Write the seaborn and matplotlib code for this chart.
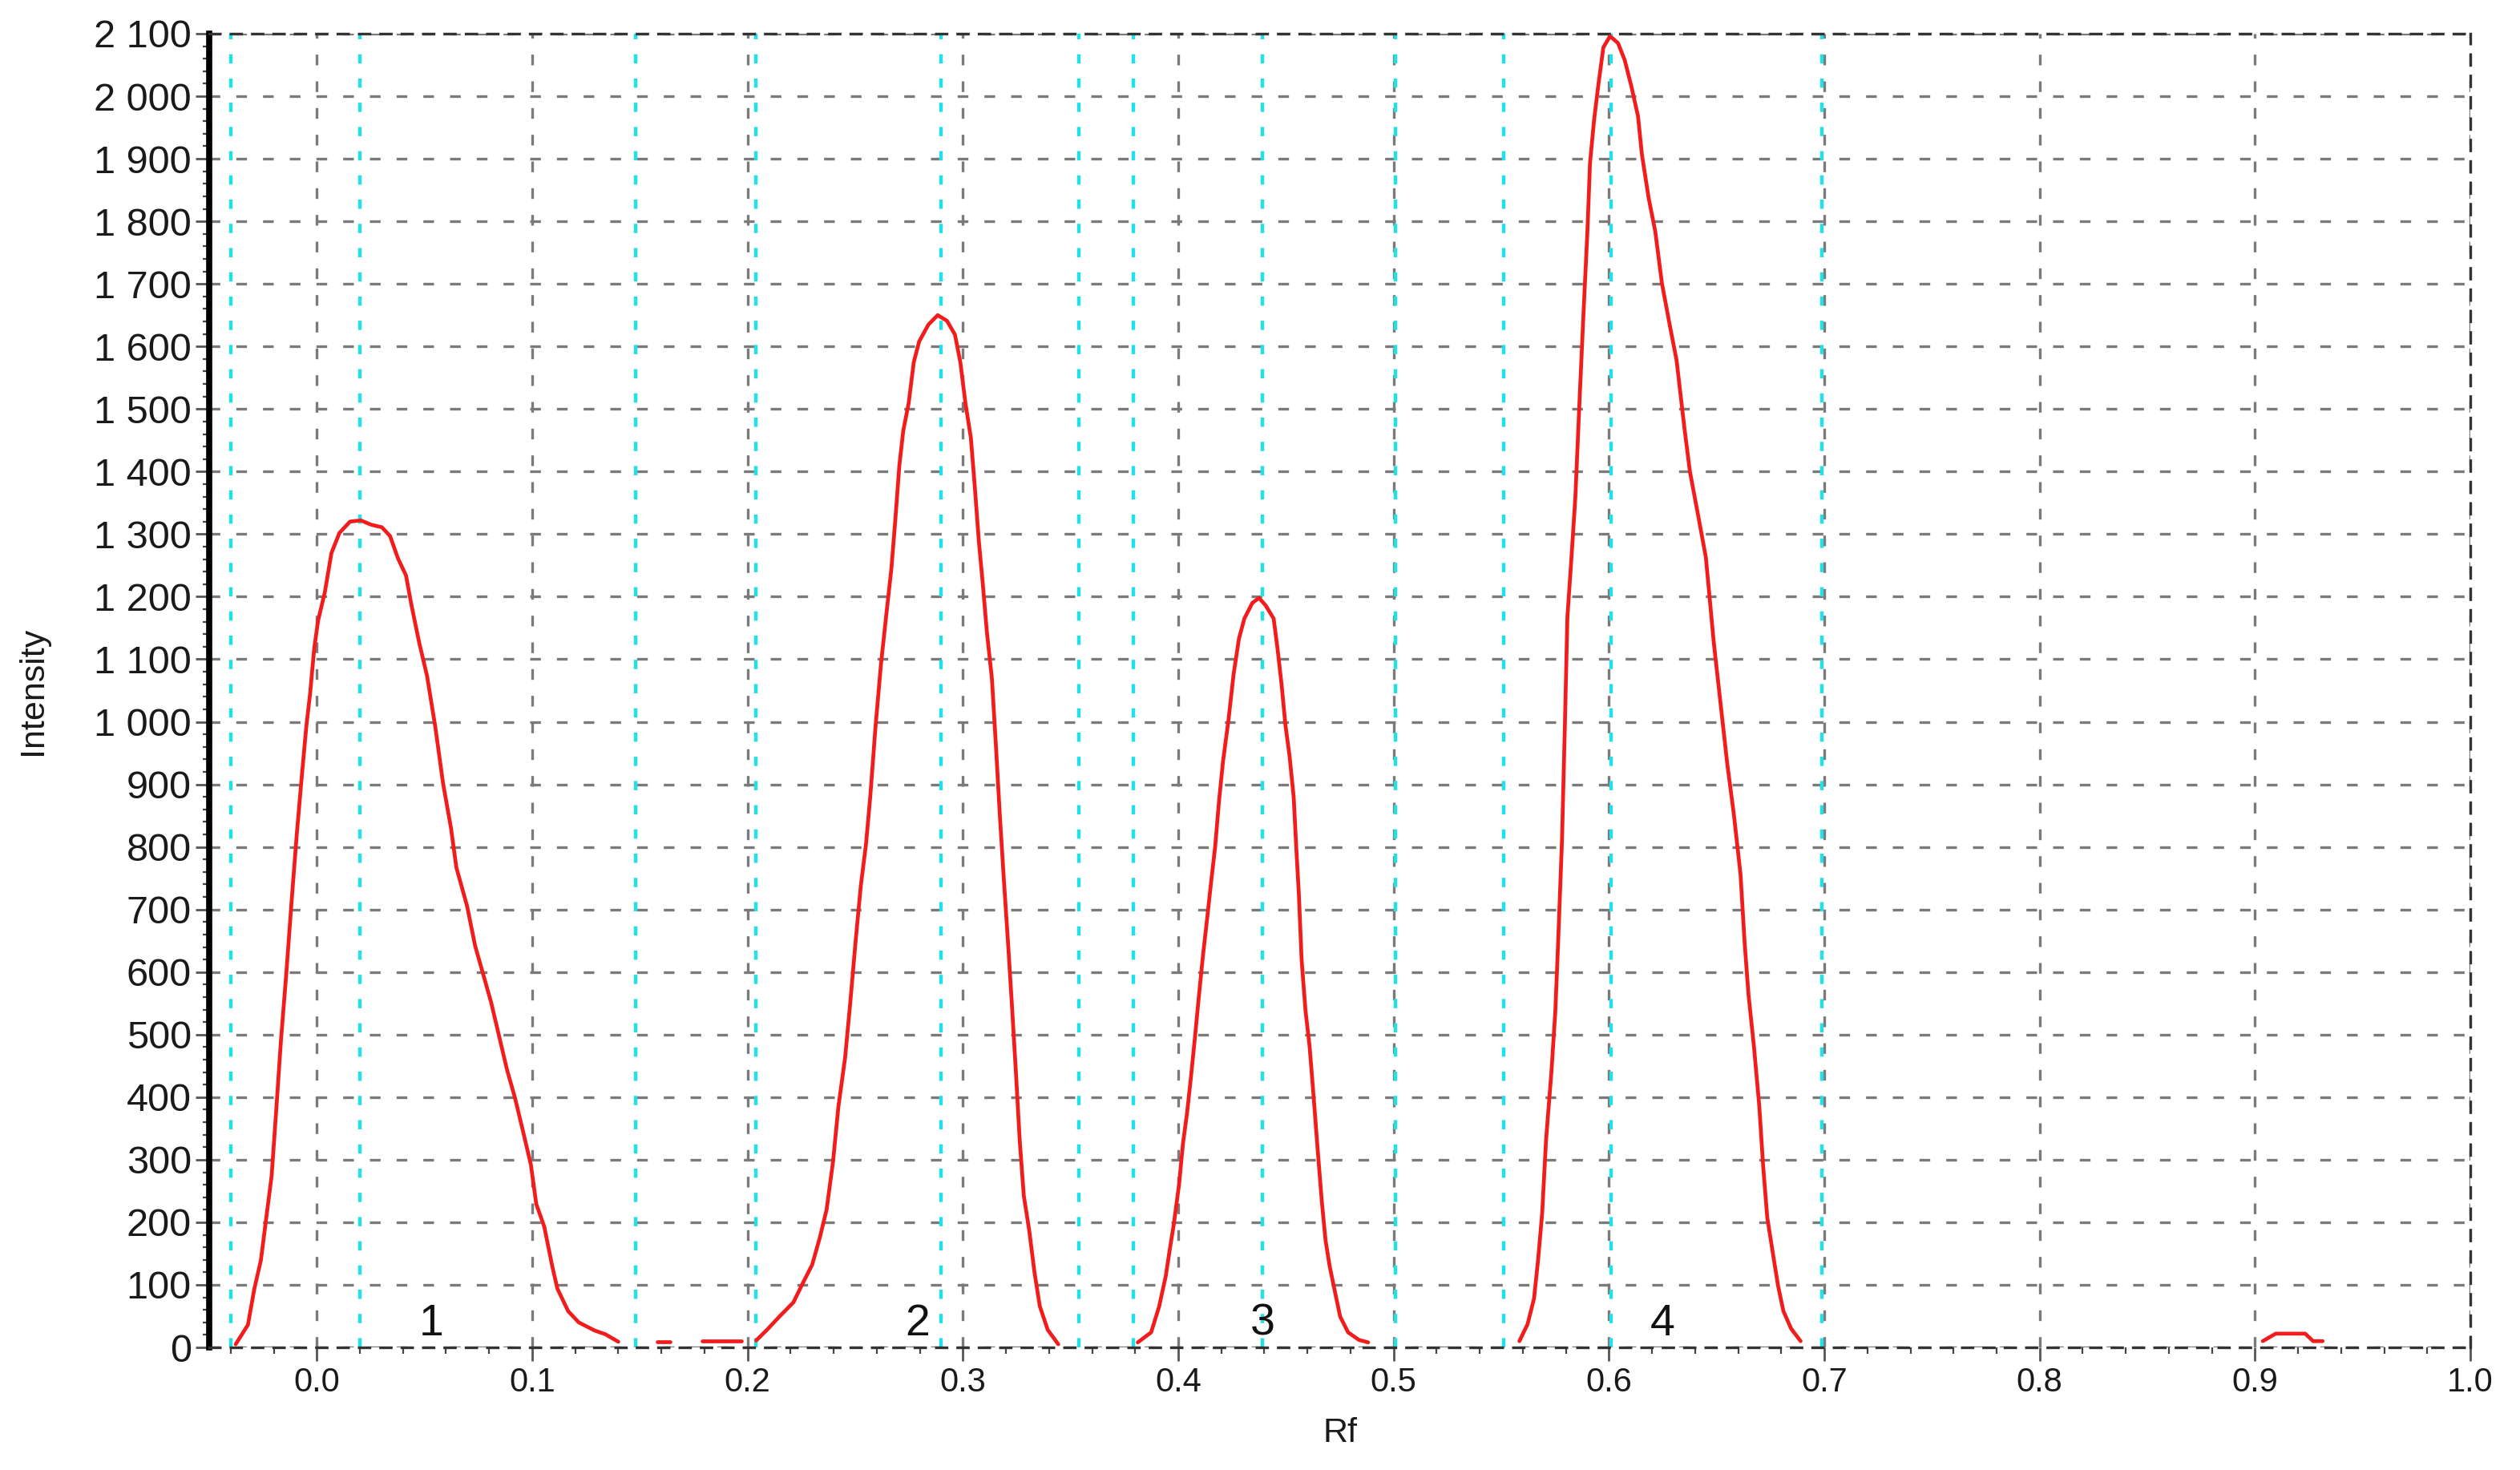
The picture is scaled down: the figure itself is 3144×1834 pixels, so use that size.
import numpy as np
import pandas as pd
import seaborn as sns
from matplotlib import pyplot as plt
from matplotlib.ticker import MultipleLocator, FuncFormatter

# densitogram trace (Rf, intensity), one list pair per segment
rf_peak1 = [-0.0377, -0.032, -0.029, -0.026, -0.024, -0.021, -0.019, -0.0167, -0.0142, -0.0117,
            -0.0093, -0.0068, -0.0049, -0.0031, -0.0012, 0.0006, 0.0037, 0.0068, 0.0105, 0.0154,
            0.0204, 0.0253, 0.0302, 0.034, 0.0377, 0.0414, 0.0438, 0.0475, 0.0512, 0.055,
            0.0586, 0.0623, 0.0648, 0.0698, 0.0735, 0.0772, 0.0809, 0.0846, 0.0883, 0.092,
            0.0957, 0.0994, 0.1019, 0.1056, 0.1093, 0.1117, 0.1167, 0.1216, 0.129, 0.134, 0.140]
int_peak1 = [5, 36, 94, 139, 193, 274, 372, 489, 597, 714,
             821, 920, 992, 1046, 1118, 1162, 1207, 1270, 1302, 1320,
             1322, 1315, 1311, 1297, 1261, 1234, 1189, 1127, 1073, 992,
             902, 830, 767, 705, 642, 597, 552, 498, 444, 399,
             346, 292, 229, 193, 130, 94, 58, 40, 27, 21, 9]

rf_bit1 = [0.158, 0.164]
int_bit1 = [9, 9]
rf_bit2 = [0.179, 0.197]
int_bit2 = [10, 10]

rf_peak2 = [0.204, 0.209, 0.215, 0.2213, 0.226, 0.230, 0.2336, 0.2367, 0.2397, 0.2422,
            0.2453, 0.2477, 0.2502, 0.2526, 0.255, 0.257, 0.2594, 0.2619, 0.2643, 0.2668,
            0.2686, 0.2705, 0.2723, 0.2748, 0.2772, 0.2797, 0.284, 0.2883, 0.2926, 0.2963,
            0.2988, 0.3012, 0.3037, 0.3055, 0.3074, 0.3092, 0.3111, 0.3135, 0.3154, 0.3172,
            0.319, 0.3209, 0.3227, 0.3246, 0.3264, 0.3283, 0.3308, 0.3332, 0.3357, 0.3394, 0.3443]
int_peak2 = [11, 28, 50, 72, 105, 132, 176, 220, 297, 385,
             463, 551, 650, 738, 804, 881, 991, 1090, 1167, 1245,
             1322, 1410, 1465, 1509, 1575, 1608, 1635, 1650, 1641, 1619,
             1575, 1509, 1454, 1377, 1289, 1222, 1145, 1068, 958, 848,
             749, 650, 551, 441, 330, 242, 187, 121, 66, 28, 5]

rf_peak3 = [0.3812, 0.3874, 0.3911, 0.3942, 0.396, 0.3979, 0.4004, 0.4022, 0.4041, 0.4059,
            0.4078, 0.4096, 0.4115, 0.4134, 0.4152, 0.4171, 0.4189, 0.4208, 0.4233, 0.4257,
            0.4282, 0.4307, 0.4344, 0.4375, 0.4406, 0.4443, 0.4461, 0.448, 0.4498, 0.4517,
            0.4536, 0.4548, 0.456, 0.4573, 0.4591, 0.461, 0.4629, 0.4647, 0.4666, 0.4684,
            0.4703, 0.4727, 0.4752, 0.4789, 0.4839, 0.4882]
int_peak3 = [8, 24, 65, 114, 155, 196, 261, 326, 375, 432,
             497, 562, 627, 685, 742, 799, 872, 937, 1002, 1076,
             1133, 1165, 1190, 1198, 1186, 1165, 1117, 1059, 994, 945,
             880, 799, 725, 619, 538, 481, 399, 318, 236, 171,
             130, 90, 49, 24, 12, 8]

rf_peak4 = [0.5584, 0.5622, 0.5652, 0.5671, 0.569, 0.5708, 0.5733, 0.5751, 0.5764, 0.5782,
            0.5795, 0.5807, 0.5826, 0.5844, 0.5863, 0.5881, 0.59, 0.5912, 0.5931, 0.595,
            0.5974, 0.6005, 0.6042, 0.6073, 0.6104, 0.6135, 0.6153, 0.6184, 0.6215, 0.6246,
            0.6283, 0.6314, 0.6351, 0.6376, 0.6413, 0.645, 0.6487, 0.6518, 0.6549, 0.658,
            0.6611, 0.663, 0.6648, 0.6673, 0.6698, 0.6716, 0.6735, 0.676, 0.6785, 0.681,
            0.6846, 0.689]
int_peak4 = [10, 37, 78, 140, 215, 332, 441, 537, 647, 811,
             989, 1167, 1263, 1359, 1510, 1647, 1784, 1893, 1962, 2016,
             2078, 2096, 2085, 2058, 2016, 1968, 1907, 1838, 1784, 1701,
             1633, 1578, 1468, 1400, 1332, 1263, 1126, 1030, 934, 852,
             756, 647, 564, 482, 386, 290, 208, 153, 99, 58,
             30, 10]

rf_bit3 = [0.9036, 0.9096, 0.9233, 0.927, 0.9314]
int_bit3 = [10, 22, 22, 10, 10]

# integration boundaries / peak maxima (cyan markers)
cyan_rf = [-0.040, 0.020, 0.148, 0.204, 0.290, 0.354, 0.379, 0.439, 0.501, 0.551, 0.601, 0.699]

peak_names = ["1", "2", "3", "4"]
peak_label_rf = [0.053, 0.279, 0.439, 0.625]
peak_label_int = [4, 4, 4, 4]

segments = [(rf_peak1, int_peak1), (rf_bit1, int_bit1), (rf_bit2, int_bit2),
            (rf_peak2, int_peak2), (rf_peak3, int_peak3), (rf_peak4, int_peak4),
            (rf_bit3, int_bit3)]
df = pd.concat([pd.DataFrame({"Rf": r, "Intensity": v, "seg": i})
                for i, (r, v) in enumerate(segments)], ignore_index=True)

sns.set_theme(style="white")
plt.rcParams["font.family"] = ["Liberation Sans", "DejaVu Sans"]

fig = plt.figure(figsize=(31.44, 18.34), dpi=100)
ax = fig.add_axes([0.083, 0.0834, 0.8973, 0.8937])

for x in cyan_rf:
    ax.axvline(x, color="#22e0e8", lw=3.2, ls=(0, (2.6, 4.2)), zorder=1)

sns.lineplot(data=df, x="Rf", y="Intensity", units="seg", estimator=None, sort=False,
             color="#f21c1c", lw=3.4, ax=ax, zorder=3)

for name, x, y in zip(peak_names, peak_label_rf, peak_label_int):
    ax.text(x, y, name, fontsize=40, ha="center", va="bottom", color="#111111")

ax.set_xlim(-0.05, 1.0)
ax.set_ylim(0, 2100)
ax.xaxis.set_major_locator(MultipleLocator(0.1))
ax.xaxis.set_minor_locator(MultipleLocator(0.02))
ax.yaxis.set_major_locator(MultipleLocator(100))
ax.yaxis.set_minor_locator(MultipleLocator(20))
ax.xaxis.set_major_formatter(FuncFormatter(lambda v, p: f"{v:.1f}"))
ax.yaxis.set_major_formatter(FuncFormatter(lambda v, p: f"{v:,.0f}".replace(",", " ")))

ax.grid(True, which="major", color="#7a7a7a", lw=2.4, ls=(0, (4, 6)), zorder=0)

ax.spines["left"].set_linewidth(5.5)
ax.spines["left"].set_color("black")
for s in ["top", "right", "bottom"]:
    ax.spines[s].set_color("#333333")
    ax.spines[s].set_linewidth(2.4)
    ax.spines[s].set_linestyle((0, (4, 4)))

ax.tick_params(axis="both", which="major", labelcolor="#1a1a1a",
               color="#555555", width=2, length=12)
ax.tick_params(axis="x", which="major", labelsize=30, pad=5)
ax.tick_params(axis="y", which="major", labelsize=35, pad=4)
ax.tick_params(axis="both", which="minor", color="#444444", width=1.6, length=6)
ax.tick_params(axis="x", which="both", bottom=True, direction="out")
ax.tick_params(axis="y", which="both", left=True, direction="out")

ax.set_xlabel("Rf", fontsize=31, color="#1a1a1a")
ax.set_ylabel("Intensity", fontsize=31, color="#1a1a1a")
ax.xaxis.set_label_coords(0.5, -0.053)
ax.yaxis.set_label_coords(-0.071, 0.5)

plt.savefig("out.png", dpi=100, facecolor="white")
